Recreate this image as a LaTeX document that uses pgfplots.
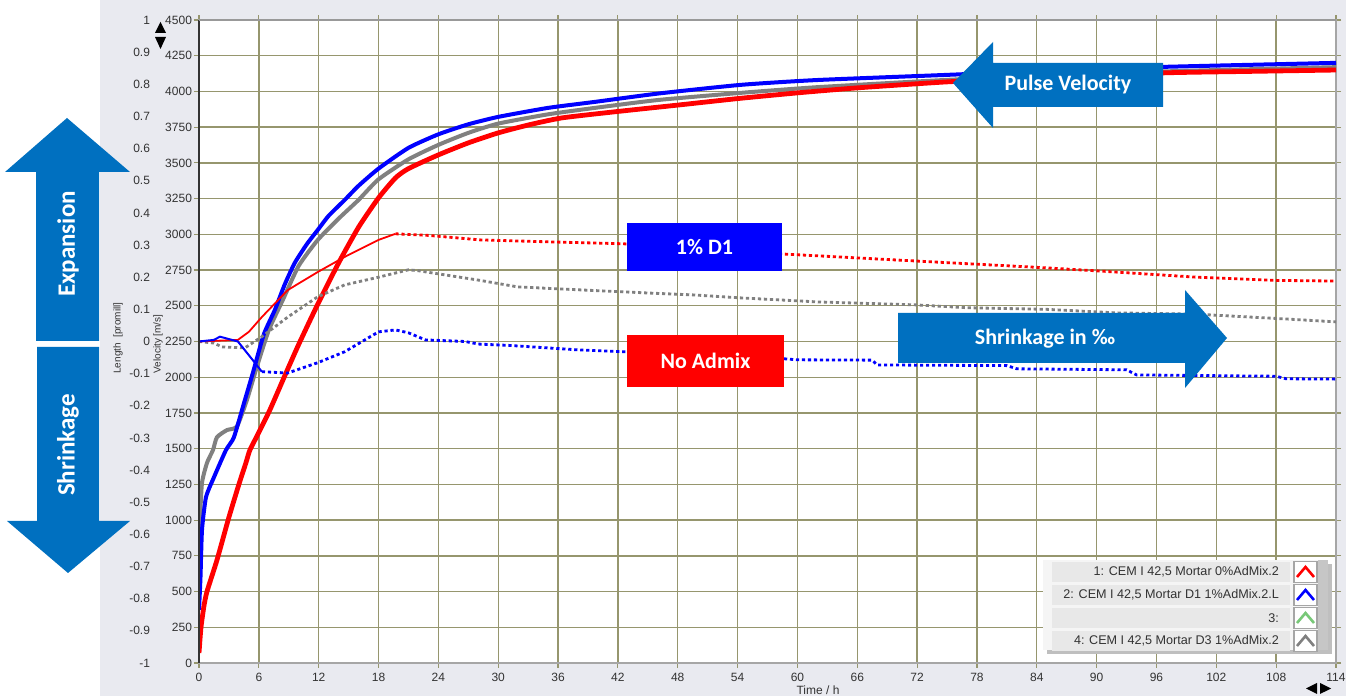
\documentclass[border=0pt]{standalone}
\usepackage{pgfplots}
\pgfplotsset{compat=1.18}
\usepackage{fontspec}
\setmainfont{Liberation Sans}
\newfontfamily\calib{Carlito}
\definecolor{panel}{RGB}{233,234,240}
\definecolor{gridc}{RGB}{150,150,110}
\definecolor{arrowb}{RGB}{0,112,192}
\definecolor{vred}{RGB}{255,0,0}
\definecolor{vblue}{RGB}{0,0,255}
\definecolor{vgray}{RGB}{128,128,128}
\definecolor{lgreen}{RGB}{120,200,120}
\definecolor{ticktext}{RGB}{50,50,50}

\pgfplotstableread{
t V
0 70
0.2 250
0.5 400
0.8 500
1.8 720
3.0 1020
4.0 1250
4.7 1400
5.1 1490
5.9 1600
7.1 1770
8.6 2010
10 2230
11.9 2510
14 2800
16 3050
18 3255
19.7 3395
21 3460
24 3556
27 3640
30 3710
33 3765
36.4 3815
42 3860
48.2 3906
54 3950
60 3990
66 4025
75 4067
84 4095
96.7 4130
105 4140
114 4150
}\redvel

\pgfplotstableread{
t V
0 370
0.15 600
0.3 930
0.7 1160
1.5 1300
2.7 1490
3.5 1580
4.6 1840
5.4 2030
6.5 2300
7.6 2470
8.6 2650
9.6 2800
10.8 2930
11.9 3030
13 3130
14.6 3240
16 3340
18 3460
21 3605
24 3700
27 3770
30 3822
35 3885
39.7 3927
46 3985
54.3 4046
62 4080
75 4116
85 4145
96.7 4172
114 4200
}\bluevel

\pgfplotstableread{
t V
0 700
0.1 1000
0.3 1260
0.8 1400
1.4 1490
1.8 1580
2.8 1630
3.8 1655
4.8 1840
5.8 2072
7 2330
8.4 2540
10 2780
11.9 2960
14 3110
16 3241
18 3385
21 3525
24 3626
27 3710
30 3775
35 3840
39.7 3885
46 3940
54.3 3990
62 4030
75 4081
85 4110
96.7 4140
114 4170
}\grayvel

\pgfplotstableread{
t L
0 0
3.9 0.005
5 0.03
6.3 0.076
8.9 0.16
11.9 0.216
14.6 0.263
18 0.316
19.7 0.335
}\redlenA

\pgfplotstableread{
t L
19.7 0.335
23 0.33
28.2 0.316
35 0.31
42.5 0.304
50 0.29
58.6 0.272
66 0.26
73.3 0.248
84.4 0.23
90.4 0.219
100 0.2
108 0.19
114 0.188
}\redlenB

\pgfplotstableread{
t L
0 0
1.5 -0.005
2.3 -0.017
4.6 -0.02
6.3 0.015
8.9 0.076
11.9 0.139
14.6 0.176
18 0.2
21 0.223
22 0.22
24.7 0.207
28.2 0.19
31.9 0.17
36.5 0.163
44.9 0.151
49.5 0.145
54.1 0.136
62.1 0.123
71.8 0.114
77 0.105
85 0.1
92 0.089
100 0.085
109 0.07
114 0.061
}\graylen

\pgfplotstableread{
t L
0 0
1.5 0.005
2.1 0.015
3.9 0
5.6 -0.066
6.3 -0.094
}\bluelenA

\pgfplotstableread{
t L
6.3 -0.094
8.9 -0.098
11.9 -0.066
14.6 -0.032
18 0.03
19.7 0.036
21 0.027
22.7 0.005
26.7 0
28 -0.008
31 -0.012
38 -0.026
45 -0.035
55 -0.045
60 -0.057
67.5 -0.058
68 -0.073
81 -0.075
82 -0.085
93 -0.088
94 -0.104
108 -0.108
109 -0.116
114 -0.117
}\bluelenB

\begin{document}
\begin{tikzpicture}[x=0.5pt,y=0.5pt]
\useasboundingbox (0,0) rectangle (1346,696);
\fill[panel] (100,0) rectangle (1346,696);

% velocity axis
\begin{axis}[
  at={(99.5pt,16.5pt)}, anchor=south west,
  scale only axis, width=568.5pt, height=321.5pt,
  xmin=0, xmax=114, ymin=0, ymax=4500,
  xtick={0,6,...,114}, ytick={0,250,...,4500},
  grid=major, major grid style={color=gridc, line width=0.7pt},
  axis background/.style={fill=white},
  axis line style={draw=gray!70, line width=0.8pt},
  tick align=outside, major tick length=2.5pt,
  tick style={color=gridc, line width=0.6pt},
  /pgf/number format/assume math mode=true,
  /pgf/number format/set thousands separator={},
  scaled ticks=false,
  tick label style={font=\fontsize{6}{7}\selectfont, text=ticktext},
  yticklabel style={xshift=2.5pt},
  xticklabel style={yshift=1pt},
  clip=true,
]
\addplot[vgray, line width=2pt, smooth, tension=0.35] table[x=t,y=V] {\grayvel};
\addplot[vblue, line width=2pt, smooth, tension=0.35] table[x=t,y=V] {\bluevel};
\addplot[vred, line width=2.4pt, smooth, tension=0.35] table[x=t,y=V] {\redvel};
\end{axis}

% length axis
\begin{axis}[
  at={(99.5pt,16.5pt)}, anchor=south west,
  scale only axis, width=568.5pt, height=321.5pt,
  xmin=0, xmax=114, ymin=-1, ymax=1,
  xtick=\empty,
  ytick={-1,-0.9,-0.8,-0.7,-0.6,-0.5,-0.4,-0.3,-0.2,-0.1,0,0.1,0.2,0.3,0.4,0.5,0.6,0.7,0.8,0.9,1},
  axis line style={draw=none}, major tick length=0pt,
  /pgf/number format/assume math mode=true,
  /pgf/number format/fixed, /pgf/number format/precision=1,
  yticklabel style={font=\fontsize{6}{7}\selectfont, text=ticktext, xshift=-21pt},
  clip=true,
]
\addplot[vgray, line width=1.4pt, dash pattern=on 1.6pt off 1.4pt] table[x=t,y=L] {\graylen};
\addplot[vred, line width=0.9pt] table[x=t,y=L] {\redlenA};
\addplot[vred, line width=1.4pt, dash pattern=on 1.6pt off 1.4pt] table[x=t,y=L] {\redlenB};
\addplot[vblue, line width=1pt] table[x=t,y=L] {\bluelenA};
\addplot[vblue, line width=1.4pt, dash pattern=on 1.6pt off 1.4pt] table[x=t,y=L] {\bluelenB};
\end{axis}

% left axis line and top border
\draw[black!80, line width=0.8pt] (199,33) -- (199,676);
\draw[gray!80, line width=1pt] (199,676) -- (1336,676);

% axis labels
\node[rotate=90, font=\fontsize{5}{6}\selectfont, text=ticktext] at (118,358) {Length\ \ [promill]};
\node[rotate=90, font=\fontsize{5}{6}\selectfont, text=ticktext] at (158,352) {Velocity [m/s]};
\node[font=\fontsize{6}{7}\selectfont, text=ticktext] at (818,6) {Time / h};

% small scroll arrows
\fill[black] (155,663) -- (166,663) -- (160.5,674) -- cycle;
\fill[black] (155,659) -- (166,659) -- (160.5,647) -- cycle;
\fill[black] (1317,2) -- (1317,13) -- (1306,7.5) -- cycle;
\fill[black] (1320,2) -- (1320,13) -- (1331,7.5) -- cycle;

% Expansion / Shrinkage arrows
\fill[arrowb] (67,578) -- (130,524) -- (99,524) -- (99,355) -- (36,355) -- (36,524) -- (5,524) -- cycle;
\fill[arrowb] (37,349) -- (99,349) -- (99,175) -- (130,175) -- (68,123) -- (7,175) -- (37,175) -- cycle;
\node[rotate=90, text=white, font=\calib\bfseries\fontsize{12.5}{13}\selectfont] at (68,452) {Expansion};
\node[rotate=90, text=white, font=\calib\bfseries\fontsize{12.5}{13}\selectfont] at (68,251) {Shrinkage};

% Pulse velocity arrow
\fill[arrowb] (953,613) -- (993,654) -- (993,633) -- (1163,633) -- (1163,589) -- (993,589) -- (993,568) -- cycle;
\node[text=white, font=\calib\bfseries\fontsize{11}{12}\selectfont] at (1068,611) {Pulse Velocity};

% Shrinkage arrow
\fill[arrowb] (898,383) -- (1185,383) -- (1185,406) -- (1227,358) -- (1185,308) -- (1185,333) -- (898,333) -- cycle;
\node[text=white, font=\calib\bfseries\fontsize{11}{12}\selectfont] at (1045,357) {Shrinkage in ‰};

% boxes
\fill[vblue] (627,425) rectangle (782,473);
\node[text=white, font=\calib\bfseries\fontsize{11}{12}\selectfont] at (704.5,449) {1\% D1};
\fill[vred] (627,309) rectangle (784,361);
\node[text=white, font=\calib\bfseries\fontsize{11}{12}\selectfont] at (705.5,335) {No Admix};

% legend
\fill[black!25] (1047,42) rectangle (1332,132);
\fill[gray!8] (1043,46) rectangle (1328,136);
\fill[gray!45] (1318,46) rectangle (1328,136);
\foreach \c/\col/\txt in {124/vred/{1: CEM I 42,5 Mortar 0\%AdMix.2},101/vblue/{2: CEM I 42,5 Mortar D1 1\%AdMix.2.L},78/lgreen/{3:},55/vgray/{4: CEM I 42,5 Mortar D3 1\%AdMix.2}}{
  \fill[gray!18] (1052,\c-10) rectangle (1290,\c+10);
  \node[anchor=east, font=\fontsize{6.3}{7}\selectfont, text=ticktext] at (1286,\c) {\txt};
  \fill[white] (1294,\c-10.5) rectangle (1317,\c+10.5);
  \draw[gray!70, line width=0.6pt] (1294,\c-10.5) rectangle (1317,\c+10.5);
  \draw[\col, line width=1.3pt] (1297,\c-5) -- (1305.5,\c+5) -- (1314,\c-5);
}
\end{tikzpicture}
\end{document}
